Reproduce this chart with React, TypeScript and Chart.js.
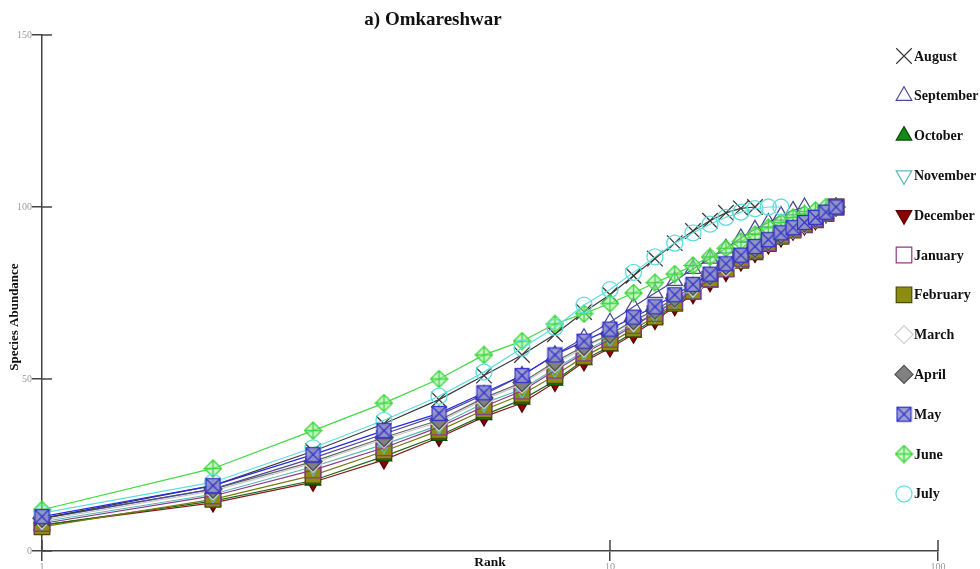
import React, { useEffect, useRef } from 'react';
import { Chart, registerables } from 'chart.js';
import { drawPoint } from 'chart.js/helpers';

Chart.register(...registerables);

// ---------- data ----------
const ranks = [1, 2, 3, 4, 5, 6, 7, 8, 9, 10, 11, 12, 13, 14, 15, 16, 17, 18, 19, 20, 21, 22, 23, 24, 25];

const august = [9.5, 19, 29, 37, 44, 51, 57, 63, 69.5, 74.5, 80, 85, 89.5, 93, 96, 98.3, 99.6, 100];
const september = [9.5, 18, 27, 34, 39.5, 45.5, 51, 57, 62, 66.5, 71, 75, 78.5, 82, 85, 88, 91, 93.5, 95.5, 97.5, 99, 100];
const october = [7.5, 14.5, 20.5, 27.5, 33.5, 39.5, 44, 49.5, 55.5, 59.5, 63.5, 67.5, 71.5, 74.8, 78.3, 81.3, 84.2, 86.7, 89.1, 91.2, 93.1, 94.6, 96.1, 98, 100];
const november = [8.5, 16.5, 24.5, 31, 36.5, 43, 47, 53, 58, 62, 66, 69, 73, 76, 79.5, 82.5, 85, 87.5, 89.8, 91.8, 93.5, 95, 96.6, 98.3, 100];
const december = [7.5, 14, 20, 26.5, 33, 39, 43, 49, 55, 59, 63, 67, 71, 74.5, 78, 81, 84, 86.5, 89, 91, 93, 94.5, 96, 98, 100];
const january = [8, 16, 23.5, 30, 36, 42, 46.5, 52.5, 57.5, 61.5, 65.5, 69, 72.5, 75.5, 79, 82, 85, 87.5, 89.6, 91.7, 93.5, 95, 96.5, 98.2, 100];
const february = [7, 15, 22, 29, 35, 41, 45.5, 51, 56.5, 60.5, 64.5, 68, 72, 75.5, 79, 82, 84.5, 87, 89.4, 91.5, 93.3, 94.8, 96.3, 98.1, 100];
const march = [9, 17.5, 25.5, 32.5, 37.5, 44, 48.5, 54.5, 59, 63, 66.5, 70, 73.5, 76.5, 80, 82.5, 85.5, 88, 90, 92, 93.7, 95.2, 96.7, 98.3, 100];
const april = [9.5, 18, 26, 33, 38, 44.5, 49, 55, 59.5, 63, 67, 70, 73.5, 77, 80, 83, 85.5, 88, 90, 92, 93.8, 95.3, 96.8, 98.4, 100];
const may = [10, 19, 28, 35, 40, 46, 51, 57, 61, 64.5, 68, 71, 74.5, 77.5, 80.5, 83.5, 86, 88.5, 90.5, 92.5, 94, 95.5, 97, 98.5, 100];
const june = [12, 24, 35, 43, 50, 57, 61, 66, 69, 72, 75, 78, 80.5, 83, 85.5, 88, 90, 92, 94, 95.5, 97, 98, 99, 100];
const july = [11, 20, 30, 38, 45, 52, 59, 65, 71.5, 76, 81, 85.5, 89.5, 92.5, 95, 97, 98.5, 99.5, 100, 100];

const seriesNames = ['August', 'September', 'October', 'November', 'December', 'January', 'February', 'March', 'April', 'May', 'June', 'July'];
const seriesValues = [august, september, october, november, december, january, february, march, april, may, june, july];

const xTickValues = [1, 10, 37.8];
const xTickLabels = ['1', '10', '100'];
const yTickValues = [0, 50, 100, 150];
const titleText = 'a) Omkareshwar';
const xTitle = 'Rank';
const yTitle = 'Species Abundance';

const SERIF = '"Liberation Serif", "DejaVu Serif", serif';
const AXIS = '#444444';

function makeMay(): HTMLCanvasElement {
  const c = document.createElement('canvas');
  c.width = 17; c.height = 17;
  const g = c.getContext('2d')!;
  g.fillStyle = 'rgba(150,150,205,0.9)';
  g.fillRect(1.5, 1.5, 14, 14);
  g.strokeStyle = '#3434c8';
  g.lineWidth = 1.3;
  g.strokeRect(1.5, 1.5, 14, 14);
  g.beginPath();
  g.moveTo(1.5, 1.5); g.lineTo(15.5, 15.5);
  g.moveTo(15.5, 1.5); g.lineTo(1.5, 15.5);
  g.stroke();
  return c;
}

function makeJune(): HTMLCanvasElement {
  const c = document.createElement('canvas');
  c.width = 19; c.height = 19;
  const g = c.getContext('2d')!;
  g.beginPath();
  g.moveTo(9.5, 1); g.lineTo(18, 9.5); g.lineTo(9.5, 18); g.lineTo(1, 9.5); g.closePath();
  g.fillStyle = 'rgba(160,240,160,0.55)';
  g.fill();
  g.strokeStyle = '#3fd63f';
  g.lineWidth = 1.4;
  g.stroke();
  g.beginPath();
  g.moveTo(9.5, 1); g.lineTo(9.5, 18);
  g.moveTo(1, 9.5); g.lineTo(18, 9.5);
  g.stroke();
  return c;
}

type Sty = { style: any; rot: number; r: number; border: string; fill: string; line: string; order: number };

export default function App() {
  const ref = useRef<HTMLCanvasElement | null>(null);

  useEffect(() => {
    if (!ref.current) return;
    const mayImg = makeMay();
    const juneImg = makeJune();

    const styles: Sty[] = [
      { style: 'crossRot', rot: 0, r: 11, border: '#3a3a3a', fill: 'rgba(0,0,0,0)', line: '#3a3a3a', order: 4 },
      { style: 'triangle', rot: 0, r: 9, border: '#4a4a96', fill: 'rgba(255,255,255,0)', line: '#4a4a96', order: 5 },
      { style: 'triangle', rot: 0, r: 9, border: '#0a4a0a', fill: '#148c14', line: '#1a6a1a', order: 11 },
      { style: 'triangle', rot: 180, r: 9, border: '#5cb8b8', fill: 'rgba(255,255,255,0)', line: '#5cb8b8', order: 9 },
      { style: 'triangle', rot: 180, r: 9, border: '#5a0000', fill: '#8b0000', line: '#8b1a1a', order: 12 },
      { style: 'rect', rot: 0, r: 11, border: '#8a3c8a', fill: 'rgba(255,255,255,0)', line: '#8a3c8a', order: 8 },
      { style: 'rect', rot: 0, r: 11, border: '#4a4a00', fill: '#8c8c10', line: '#7a7a10', order: 10 },
      { style: 'rectRot', rot: 0, r: 9, border: '#cfcfcf', fill: 'rgba(255,255,255,0.3)', line: '#c8c8c8', order: 7 },
      { style: 'rectRot', rot: 0, r: 9, border: '#505050', fill: '#808080', line: '#666666', order: 6 },
      { style: mayImg, rot: 0, r: 9, border: '#3434c8', fill: 'rgba(150,150,205,0.9)', line: '#2a2ae0', order: 1 },
      { style: juneImg, rot: 0, r: 10, border: '#3fd63f', fill: 'rgba(160,240,160,0.55)', line: '#44d844', order: 3 },
      { style: 'circle', rot: 0, r: 8, border: '#5fdede', fill: 'rgba(255,255,255,0)', line: '#5fdede', order: 2 },
    ];

    const datasets = seriesNames.map((name, i) => {
      const s = styles[i];
      return {
        label: name,
        data: seriesValues[i].map((v, j) => ({ x: ranks[j], y: v })),
        borderColor: s.line,
        borderWidth: 1.2,
        backgroundColor: s.fill,
        pointStyle: s.style,
        pointRotation: s.rot,
        pointRadius: s.r,
        pointBorderColor: s.border,
        pointBackgroundColor: s.fill,
        pointBorderWidth: 1.3,
        tension: 0,
        fill: false,
        clip: false,
        order: s.order,
      };
    });

    const decor = {
      id: 'decor',
      afterDraw(chart: any) {
        const ctx: CanvasRenderingContext2D = chart.ctx;
        const xs = chart.scales.x;
        const ys = chart.scales.y;
        ctx.save();
        // inner halves of the crossing ticks
        ctx.strokeStyle = AXIS;
        ctx.lineWidth = 1.5;
        for (const v of yTickValues) {
          const py = ys.getPixelForValue(v);
          ctx.beginPath();
          ctx.moveTo(xs.left, py);
          ctx.lineTo(xs.left + 10, py);
          ctx.stroke();
        }
        for (const v of xTickValues) {
          const px = xs.getPixelForValue(v);
          ctx.beginPath();
          ctx.moveTo(px, ys.bottom);
          ctx.lineTo(px, ys.bottom - 11);
          ctx.stroke();
        }
        // chart title
        ctx.fillStyle = '#111';
        ctx.textAlign = 'center';
        ctx.textBaseline = 'middle';
        ctx.font = 'bold 19px ' + SERIF;
        ctx.fillText(titleText, 433, 20);
        // y axis title
        ctx.save();
        ctx.translate(15, 317);
        ctx.rotate(-Math.PI / 2);
        ctx.font = 'bold 13px ' + SERIF;
        ctx.fillText(yTitle, 0, 0);
        ctx.restore();
        // legend
        ctx.font = 'bold 14px ' + SERIF;
        ctx.textAlign = 'left';
        chart.data.datasets.forEach((ds: any, i: number) => {
          const y = 56 + i * 39.8;
          const x = 904;
          ctx.save();
          ctx.fillStyle = ds.pointBackgroundColor;
          ctx.strokeStyle = ds.pointBorderColor;
          ctx.lineWidth = 1.2;
          drawPoint(ctx, { pointStyle: ds.pointStyle, rotation: ds.pointRotation, radius: ds.pointRadius, borderWidth: 1.2 } as any, x, y);
          ctx.restore();
          ctx.fillStyle = '#111';
          ctx.fillText(ds.label, 914, y + 1);
        });
        ctx.restore();
      },
    };

    const chart = new Chart(ref.current, {
      type: 'line',
      data: { datasets: datasets as any },
      options: {
        animation: false,
        responsive: false,
        events: [],
        layout: { padding: { top: 35, right: 42, left: 0, bottom: 0 } },
        plugins: {
          legend: { display: false },
          tooltip: { enabled: false },
          title: { display: false },
        },
        scales: {
          x: {
            type: 'logarithmic',
            min: 1,
            max: 37.8,
            afterBuildTicks: (scale: any) => {
              scale.ticks = xTickValues.map((v) => ({ value: v }));
            },
            afterFit: (scale: any) => {
              scale.height = 18;
            },
            ticks: {
              autoSkip: false,
              maxRotation: 0,
              padding: 0,
              color: '#9a9a9a',
              font: { family: SERIF, size: 10 },
              callback: (_v: any, i: number) => xTickLabels[i],
            },
            grid: { drawOnChartArea: false, drawTicks: true, tickLength: 10, color: AXIS, lineWidth: 1.5 },
            border: { display: true, color: AXIS, width: 1.5 },
            title: {
              display: true,
              text: xTitle,
              color: '#111',
              font: { family: SERIF, size: 13.5, weight: 'bold', lineHeight: 1 },
              padding: 0,
            },
          },
          y: {
            type: 'linear',
            min: 0,
            max: 150,
            afterFit: (scale: any) => {
              scale.width = 42;
            },
            ticks: {
              stepSize: 50,
              padding: 0,
              color: '#9a9a9a',
              font: { family: SERIF, size: 10 },
            },
            grid: { drawOnChartArea: false, drawTicks: true, tickLength: 10, color: AXIS, lineWidth: 1.5 },
            border: { display: true, color: AXIS, width: 1.5 },
          },
        },
      },
      plugins: [decor],
    });

    return () => chart.destroy();
  }, []);

  return (
    <div style={{ position: 'fixed', left: 0, top: 0, width: 980, height: 569, background: '#fff' }}>
      <canvas ref={ref} width={980} height={569} style={{ display: 'block' }} />
    </div>
  );
}
